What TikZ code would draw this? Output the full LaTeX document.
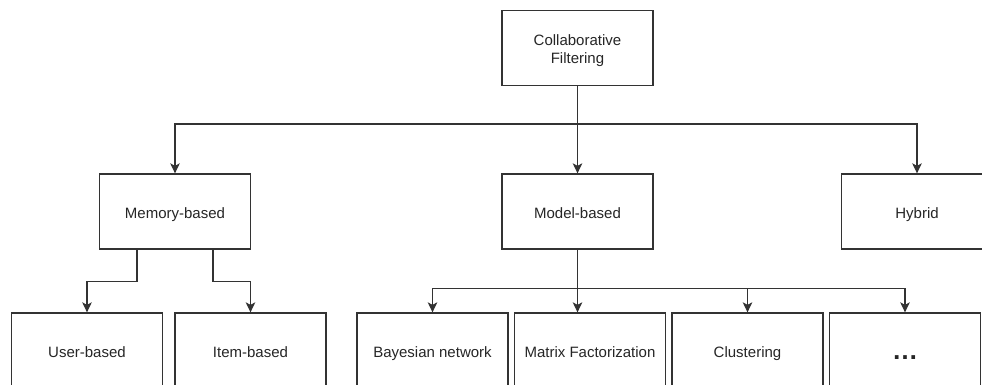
\documentclass[tikz,border=0pt]{standalone}
\usepackage{fontspec}
\setmainfont{Liberation Sans}
\usetikzlibrary{arrows.meta,calc}
\definecolor{linegray}{HTML}{333333}
\definecolor{textgray}{HTML}{262626}
\begin{document}
\begin{tikzpicture}[x=1pt,y=-1pt,
  box/.style={draw=linegray, line width=1.3pt, fill=white,
    minimum width=151pt, minimum height=75pt, inner sep=0pt,
    text height=13.6pt, text depth=0pt,
    font=\fontsize{15}{18}\selectfont, align=center, text=textgray},
  link/.style={draw=linegray, line width=1.3pt,
    -{Stealth[length=10pt,width=9.5pt,inset=2.5pt]}}
]
% canvas
\clip (0,0) rectangle (982,385);
\fill[white] (0,0) rectangle (982,385);

% root
\node[box, text height=31pt] (cf) at (577.5,48) {Collaborative\\Filtering};

% second level
\node[box] (mem)   at (175,211.5)   {Memory-based};
\node[box] (model) at (577.5,211.5) {Model-based};
\node[box] (hyb)   at (917,211.5)   {Hybrid};

% third level
\node[box] (user)   at (87,350.5)    {User-based};
\node[box] (item)   at (250.5,350.5) {Item-based};
\node[box] (bayes)  at (432.5,350.5) {Bayesian network};
\node[box] (matrix) at (590,350.5)   {Matrix Factorization};
\node[box] (clust)  at (747.5,350.5) {Clustering};
\node[box] (more)   at (905,350.5)   {};
\node[font=\fontsize{26}{26}\selectfont\bfseries, text=textgray, inner sep=0pt]
  (moretext) at (905,358) {…};

% root to second level
\draw[link] (cf.south) -- ++(0,38) -| (mem.north);
\draw[link] (cf.south) -- (model.north);
\draw[link] (cf.south) -- ++(0,38) -| (hyb.north);

% memory-based branches
\coordinate (m1) at ($(mem.south west)!0.25!(mem.south east)$);
\coordinate (m2) at ($(mem.south west)!0.75!(mem.south east)$);
\draw[link] (m1) -- ++(0,32) -| (user.north);
\draw[link] (m2) -- ++(0,32) -| (item.north);

% model-based branches
\draw[link] (model.south) -- ++(0,39) -| (bayes.north);
\draw[link] (model.south) -- (model.south |- matrix.north);
\draw[link] (model.south) -- ++(0,39) -| (clust.north);
\draw[link] (model.south) -- ++(0,39) -| (more.north);
\end{tikzpicture}
\end{document}
